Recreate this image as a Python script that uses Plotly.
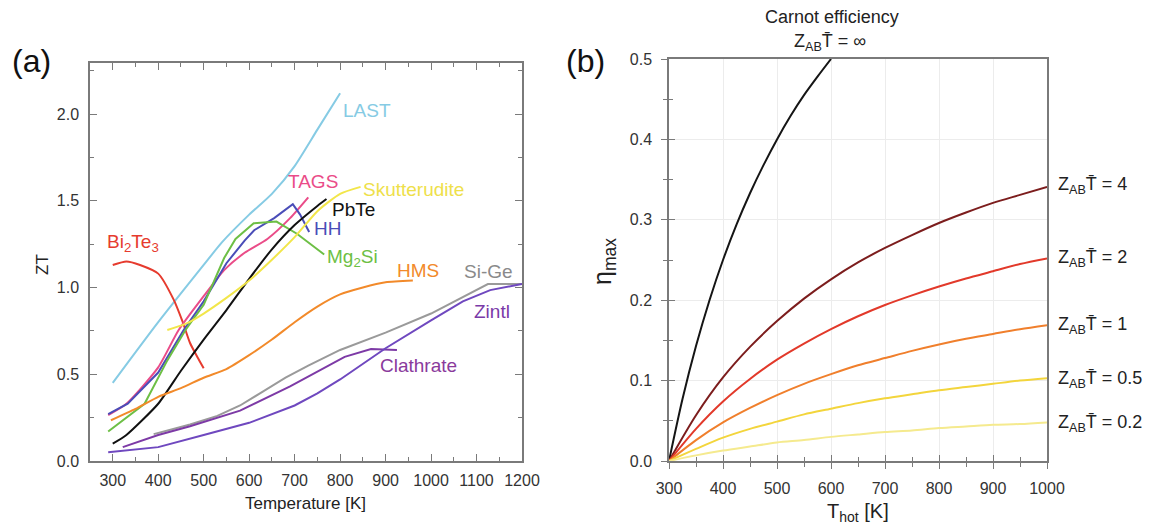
import plotly.graph_objects as go

# ---------------- Panel (a) data: ZT vs temperature ----------------
T_last = [300, 400, 500, 540, 600, 650, 700, 750, 800]
zt_last = [0.45, 0.80, 1.13, 1.26, 1.42, 1.54, 1.70, 1.91, 2.12]

T_bite = [300, 330, 360, 400, 434, 454, 470, 486, 500]
zt_bite = [1.13, 1.15, 1.13, 1.08, 0.93, 0.80, 0.68, 0.60, 0.535]

T_tags = [290, 330, 400, 445, 500, 545, 590, 640, 690, 730]
zt_tags = [0.265, 0.33, 0.54, 0.755, 0.95, 1.10, 1.20, 1.28, 1.40, 1.52]

T_hh = [290, 333, 400, 456, 500, 550, 590, 611, 655, 696, 712, 732]
zt_hh = [0.27, 0.33, 0.51, 0.755, 0.92, 1.14, 1.27, 1.33, 1.40, 1.48, 1.42, 1.32]

T_mg = [290, 370, 420, 460, 500, 545, 570, 610, 660, 705, 765]
zt_mg = [0.17, 0.33, 0.58, 0.755, 0.90, 1.17, 1.28, 1.37, 1.38, 1.31, 1.19]

T_pbte = [300, 330, 400, 450, 500, 550, 600, 650, 700, 750, 770]
zt_pbte = [0.10, 0.15, 0.33, 0.52, 0.70, 0.87, 1.05, 1.22, 1.36, 1.47, 1.51]

T_skut = [420, 460, 500, 550, 600, 650, 700, 750, 800, 845]
zt_skut = [0.755, 0.79, 0.85, 0.94, 1.04, 1.16, 1.29, 1.44, 1.54, 1.58]

T_hms = [296, 350, 400, 450, 500, 550, 600, 650, 700, 750, 800, 850, 900, 960]
zt_hms = [0.235, 0.30, 0.37, 0.42, 0.48, 0.53, 0.61, 0.70, 0.80, 0.89, 0.96, 1.00, 1.03, 1.04]

T_sige = [390, 470, 530, 580, 630, 680, 730, 800, 900, 1000, 1125, 1200]
zt_sige = [0.155, 0.21, 0.26, 0.32, 0.40, 0.48, 0.55, 0.64, 0.74, 0.85, 1.02, 1.02]

T_clath = [322, 400, 470, 580, 690, 780, 810, 868, 925]
zt_clath = [0.08, 0.15, 0.20, 0.29, 0.43, 0.56, 0.60, 0.645, 0.64]

T_zintl = [290, 400, 500, 600, 700, 750, 800, 900, 1000, 1070, 1130, 1200]
zt_zintl = [0.05, 0.08, 0.15, 0.22, 0.32, 0.39, 0.47, 0.65, 0.81, 0.92, 0.985, 1.02]

# ---------------- Panel (b) data: max efficiency vs T_hot ----------------
T_carnot = [300, 325, 350, 375, 400, 425, 450, 475, 500, 525, 550, 575, 600]
eta_carnot = [0.0, 0.077, 0.143, 0.200, 0.250, 0.294, 0.333, 0.368, 0.400, 0.429, 0.455, 0.478, 0.500]

T_hot = [300, 350, 400, 450, 500, 550, 600, 650, 700, 750, 800, 850, 900, 950, 1000]
eta_zt4 = [0.0, 0.057, 0.104, 0.142, 0.174, 0.202, 0.226, 0.247, 0.265, 0.281, 0.296, 0.309, 0.321, 0.331, 0.341]
eta_zt2 = [0.0, 0.040, 0.074, 0.102, 0.126, 0.146, 0.164, 0.180, 0.194, 0.206, 0.217, 0.227, 0.236, 0.245, 0.252]
eta_zt1 = [0.0, 0.026, 0.048, 0.066, 0.082, 0.096, 0.108, 0.119, 0.128, 0.137, 0.145, 0.152, 0.158, 0.164, 0.169]
eta_zt05 = [0.0, 0.015, 0.029, 0.040, 0.049, 0.058, 0.065, 0.072, 0.078, 0.083, 0.088, 0.092, 0.096, 0.100, 0.103]
eta_zt02 = [0.0, 0.007, 0.013, 0.018, 0.023, 0.026, 0.030, 0.033, 0.036, 0.038, 0.041, 0.043, 0.045, 0.046, 0.048]

FONT = "Liberation Sans, Arial, sans-serif"
W, H = 1153, 530

def px(x):
    return x / W

def py(y):
    return 1 - y / H

fig = go.Figure()

left_series = [
    ("LAST", T_last, zt_last, "#86cbe4", "spline"),
    ("Bi2Te3", T_bite, zt_bite, "#e63b2e", "spline"),
    ("TAGS", T_tags, zt_tags, "#ea4c88", "spline"),
    ("HH", T_hh, zt_hh, "#4a4db8", "linear"),
    ("Mg2Si", T_mg, zt_mg, "#6dbf45", "linear"),
    ("PbTe", T_pbte, zt_pbte, "#111111", "spline"),
    ("Skutterudite", T_skut, zt_skut, "#f2e64a", "spline"),
    ("HMS", T_hms, zt_hms, "#f28a2a", "spline"),
    ("Si-Ge", T_sige, zt_sige, "#9a9a9a", "linear"),
    ("Clathrate", T_clath, zt_clath, "#7d3aa6", "linear"),
    ("Zintl", T_zintl, zt_zintl, "#6f48bf", "linear"),
]
for name, xs, ys, col, shp in left_series:
    fig.add_trace(go.Scatter(x=xs, y=ys, mode="lines", name=name,
                             line=dict(color=col, width=2, shape=shp, smoothing=0.6),
                             xaxis="x", yaxis="y", showlegend=False, hoverinfo="skip"))

right_series = [
    (T_carnot, eta_carnot, "#151515"),
    (T_hot, eta_zt4, "#7c1d1d"),
    (T_hot, eta_zt2, "#e2392a"),
    (T_hot, eta_zt1, "#f07f2c"),
    (T_hot, eta_zt05, "#f3d53c"),
    (T_hot, eta_zt02, "#f5ea8e"),
]
for xs, ys, col in right_series:
    fig.add_trace(go.Scatter(x=xs, y=ys, mode="lines",
                             line=dict(color=col, width=2, shape="spline", smoothing=0.8),
                             xaxis="x2", yaxis="y2", showlegend=False, hoverinfo="skip"))

# dummy traces to realise crossing tick overlays
fig.add_trace(go.Scatter(x=[None], y=[None], xaxis="x3", yaxis="y2", showlegend=False, hoverinfo="skip"))
fig.add_trace(go.Scatter(x=[None], y=[None], xaxis="x2", yaxis="y3", showlegend=False, hoverinfo="skip"))

axcol = "#7a7a7a"
tickfont = dict(family=FONT, size=16, color="#333333")

fig.update_layout(
    width=W, height=H,
    margin=dict(l=0, r=0, t=0, b=0, pad=0, autoexpand=False),
    paper_bgcolor="white", plot_bgcolor="white",
    font=dict(family=FONT, color="#222222"),
    xaxis=dict(domain=[px(90), px(522)], range=[250, 1200], anchor="y", automargin=False,
               tickmode="linear", tick0=300, dtick=100, ticks="inside", ticklen=7,
               tickcolor=axcol, showline=True, linecolor=axcol, linewidth=1.5,
               mirror="allticks", showgrid=False, zeroline=False, tickfont=tickfont,
               ticklabelstandoff=4,
               minor=dict(ticks="inside", dtick=50, tick0=250, ticklen=4, tickcolor=axcol)),
    yaxis=dict(domain=[py(461), py(63)], range=[0, 2.294], anchor="x", automargin=False,
               tickmode="linear", tick0=0, dtick=0.5, tickformat=".1f",
               ticks="inside", ticklen=7, tickcolor=axcol, showline=True, linecolor=axcol,
               linewidth=1.5, mirror="allticks", showgrid=False, zeroline=False,
               tickfont=tickfont, ticklabelstandoff=6,
               minor=dict(ticks="inside", dtick=0.25, ticklen=4, tickcolor=axcol)),
    xaxis2=dict(domain=[px(669), px(1047)], range=[300, 1000], anchor="y2", automargin=False,
                tickmode="linear", tick0=300, dtick=100, ticks="outside", ticklen=6,
                tickcolor=axcol, showline=True, linecolor=axcol, linewidth=1.5, mirror=True,
                showgrid=True, gridcolor="#ececec", gridwidth=1, zeroline=False,
                tickfont=tickfont, ticklabelstandoff=6,
                minor=dict(ticks="outside", dtick=50, ticklen=4, tickcolor=axcol, showgrid=False)),
    yaxis2=dict(domain=[py(461), py(59)], range=[0, 0.5], anchor="x2", automargin=False,
                tickmode="linear", tick0=0, dtick=0.1, tickformat=".1f",
                ticks="outside", ticklen=6, tickcolor=axcol, showline=True, linecolor=axcol,
                linewidth=1.5, mirror=True, showgrid=True, gridcolor="#ececec", gridwidth=1,
                zeroline=False, tickfont=tickfont, ticklabelstandoff=6,
                minor=dict(ticks="outside", dtick=0.05, ticklen=4, tickcolor=axcol, showgrid=False)),
    xaxis3=dict(overlaying="x2", anchor="y2", range=[300, 1000], tickmode="linear", tick0=300,
                automargin=False,
                dtick=100, ticks="inside", ticklen=6, tickcolor=axcol, showticklabels=False,
                showline=False, showgrid=False, zeroline=False,
                minor=dict(ticks="inside", dtick=50, ticklen=4, tickcolor=axcol, showgrid=False)),
    yaxis3=dict(overlaying="y2", anchor="x2", range=[0, 0.5], tickmode="linear", tick0=0,
                automargin=False,
                dtick=0.1, ticks="inside", ticklen=6, tickcolor=axcol, showticklabels=False,
                showline=False, showgrid=False, zeroline=False,
                minor=dict(ticks="inside", dtick=0.05, ticklen=4, tickcolor=axcol, showgrid=False)),
)

ann = []
lab = 19
left_labels = [
    ("LAST", 802, 2.02, "#86cbe4"),
    ("TAGS", 681, 1.61, "#ea4c88"),
    ("Skutterudite", 846, 1.565, "#eee04a"),
    ("PbTe", 778, 1.45, "#111111"),
    ("HH", 738, 1.34, "#4a4db8"),
    ("Mg<sub>2</sub>Si", 767, 1.17, "#6dbf45"),
    ("HMS", 920, 1.10, "#f28a2a"),
    ("Si-Ge", 1067, 1.09, "#8a8a8a"),
    ("Zintl", 1089, 0.86, "#7a3aa8"),
    ("Clathrate", 883, 0.553, "#8a3a9c"),
    ("Bi<sub>2</sub>Te<sub>3</sub>", 284, 1.257, "#e63b2e"),
]
for t, x, y, c in left_labels:
    ann.append(dict(text=t, x=x, y=y, xref="x", yref="y", xanchor="left", yanchor="middle",
                    showarrow=False, font=dict(family=FONT, size=lab, color=c)))

ZL = "Z<sub>AB</sub>T\u0304 = "
right_labels = [("4", 0.343), ("2", 0.252), ("1", 0.169), ("0.5", 0.101), ("0.2", 0.047)]
for v, y in right_labels:
    ann.append(dict(text=ZL + v, x=1000, y=y, xref="x2", yref="y2", xanchor="left",
                    yanchor="middle", xshift=9, showarrow=False,
                    font=dict(family=FONT, size=18, color="#222222")))

def pa(text, x, y, size, angle=0, color="#222222"):
    return dict(text=text, x=px(x), y=py(y), xref="paper", yref="paper",
                xanchor="center", yanchor="middle", showarrow=False, textangle=angle,
                font=dict(family=FONT, size=size, color=color))

ann += [
    pa("Carnot efficiency", 832, 17, 18),
    pa(ZL + "\u221e", 830, 43, 18),
    pa("(a)", 31, 61, 32, color="#111111"),
    pa("(b)", 585, 61, 32, color="#111111"),
    pa("ZT", 42, 264, 17, angle=-90),
    pa("Temperature [K]", 305, 503, 17),
    pa("\u03b7<sub>max</sub>", 604, 262, 25, angle=-90),
    pa("T<sub>hot</sub> [K]", 858, 512, 20),
]
fig.update_layout(annotations=ann)

fig.write_html("out.html", config={"displayModeBar": False},
               post_script="document.body.style.margin='0';document.body.style.padding='0';"
                           "document.body.style.overflow='hidden';")
